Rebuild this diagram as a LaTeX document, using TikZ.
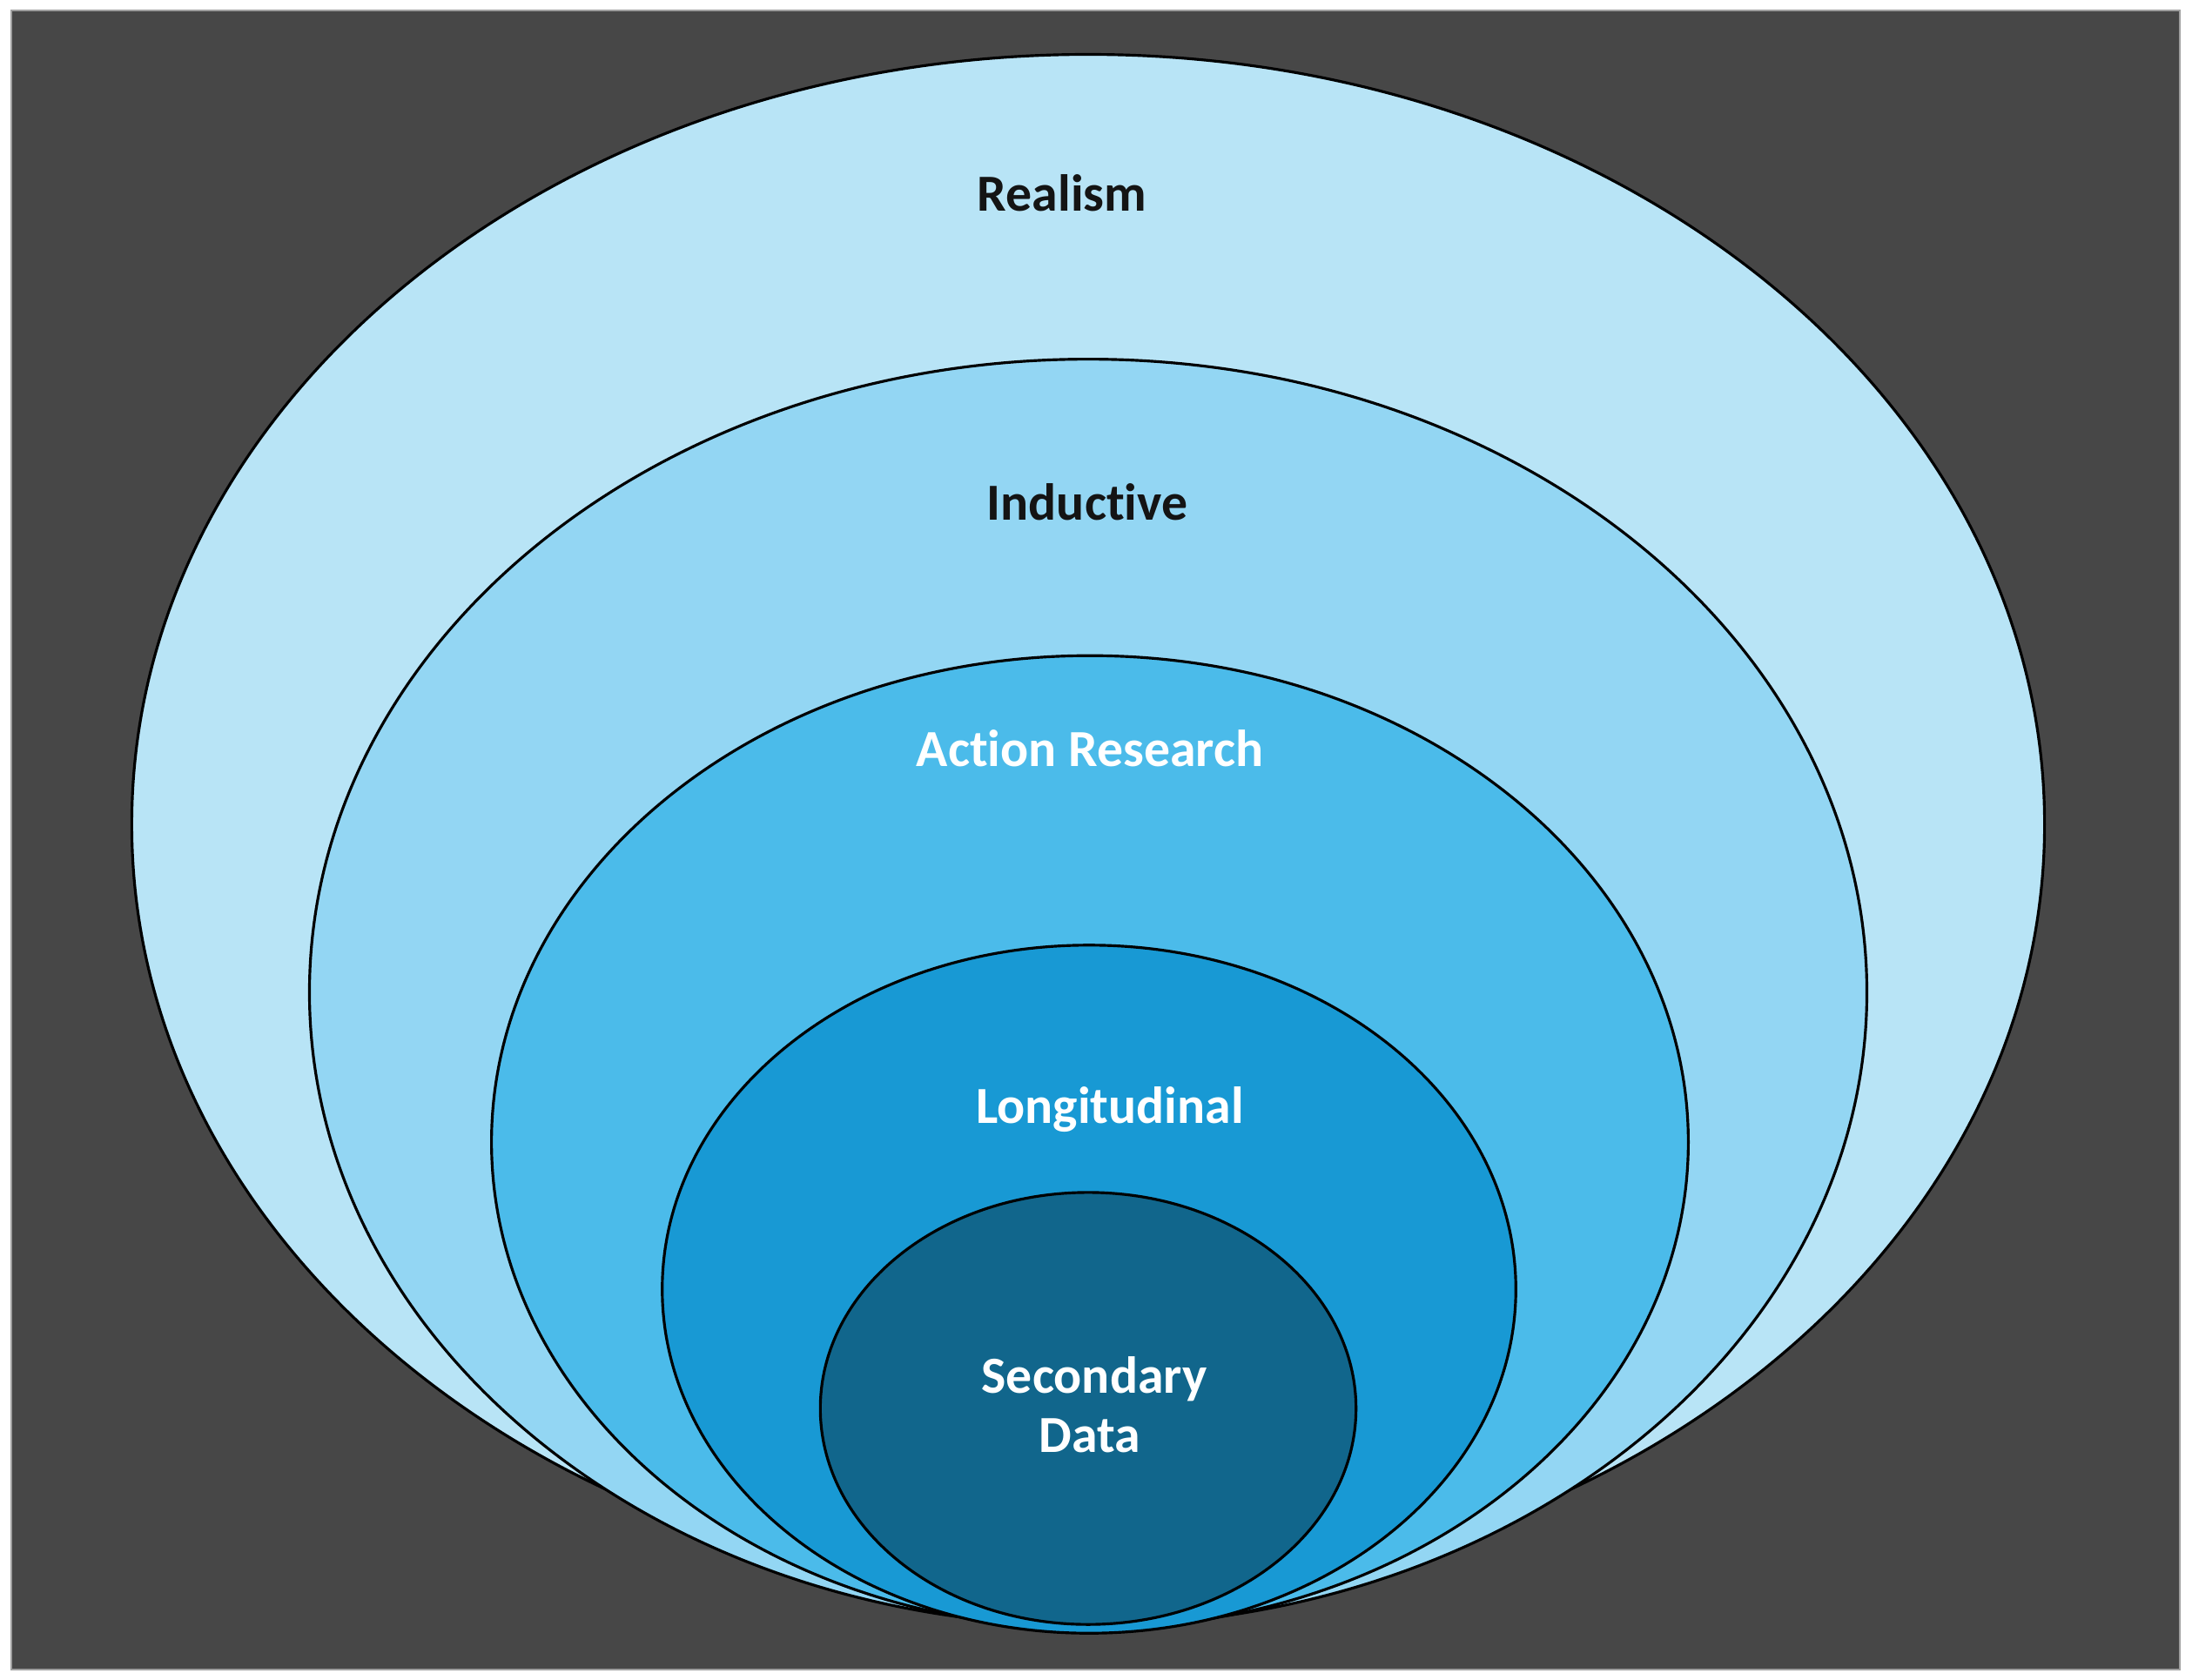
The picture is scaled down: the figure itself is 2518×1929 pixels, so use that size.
\documentclass[tikz,border=0pt]{standalone}
\usepackage{fontspec}
\setmainfont[Ligatures={NoCommon}]{Carlito}
\usetikzlibrary{shapes.geometric}
\definecolor{bg}{HTML}{474747}
\definecolor{bgdark}{HTML}{404040}
\definecolor{cA}{HTML}{B8E4F6}
\definecolor{cB}{HTML}{93D6F3}
\definecolor{cC}{HTML}{4BBBEA}
\definecolor{cD}{HTML}{1899D4}
\definecolor{cE}{HTML}{11668C}
\definecolor{ink}{HTML}{141414}
\tikzset{
  layer/.style={ellipse, draw=black, line width=0.9pt, inner sep=0pt, outer sep=0pt},
  lbl/.style={anchor=base, inner sep=0pt, font=\bfseries\fontsize{17}{20}\selectfont},
  darklbl/.style={lbl, text=ink},
  lightlbl/.style={lbl, text=white}
}
\begin{document}
\begin{tikzpicture}[x=0.01cm,y=-0.01cm]
\useasboundingbox (0,0) rectangle (2518,1929);
\fill[white] (0,0) rectangle (2518,1929);
\fill[bg] (13,12) rectangle (2504,1918);
\shade[top color=bg, middle color=bgdark, bottom color=bg] (13,1790) rectangle (2504,1918);
\draw[gray!75, line width=0.6pt] (13,12) rectangle (2504,1918);
% nested ellipses
\node[layer, fill=cA, minimum width=21.96cm, minimum height=17.68cm] (realism) at (1250,947) {};
\node[layer, fill=cB, minimum width=17.88cm, minimum height=14.54cm] (inductive) at (1250,1140) {};
\node[layer, fill=cC, minimum width=13.74cm, minimum height=11.17cm] (action) at (1252,1312) {};
\node[layer, fill=cD, minimum width=9.80cm, minimum height=7.90cm] (longit) at (1251,1481) {};
\node[layer, fill=cE, minimum width=6.15cm, minimum height=4.96cm] (secondary) at (1250,1618) {};
% labels
\node[darklbl] (tRealism) at (1220,242) {Realism};
\node[darklbl] (tInductive) at (1249,597) {Inductive};
\node[lightlbl] (tAction) at (1252,880) {Action Research};
\node[lightlbl] (tLongit) at (1275,1290) {Longitudinal};
\node[lightlbl] (tSecondary) at (1257,1600) {Secondary};
\node[lightlbl] (tData) at (1252,1668) {Data};
\end{tikzpicture}
\end{document}
